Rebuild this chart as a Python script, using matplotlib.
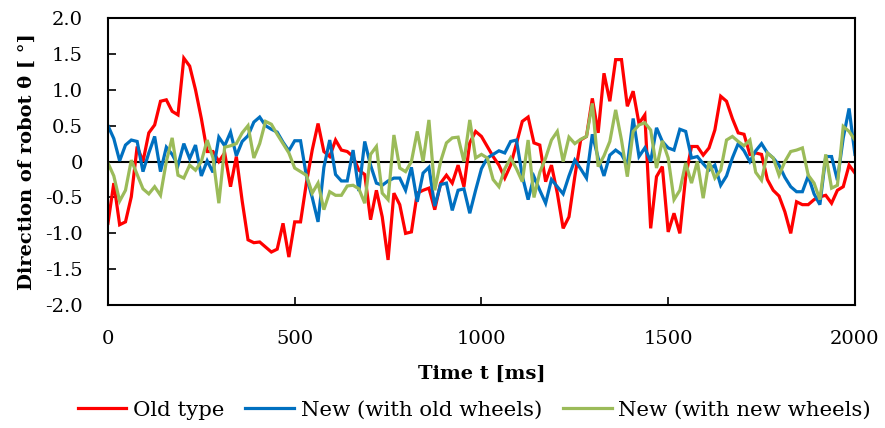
import numpy as np
import matplotlib
matplotlib.use("Agg")
import matplotlib.pyplot as plt

# sampling: 1/64 s steps over 2 s
time_ms = np.arange(129) * 15.625

old_type = [
    -0.86, -0.30, -0.88, -0.84, -0.49, 0.21, 0.00, 0.40, 0.51, 0.84,
    0.86, 0.70, 0.65, 1.44, 1.33, 1.00, 0.60, 0.14, 0.14, 0.00,
    0.12, -0.35, 0.07, -0.55, -1.09, -1.13, -1.12, -1.19, -1.26, -1.22,
    -0.86, -1.33, -0.84, -0.84, -0.30, 0.16, 0.53, 0.14, 0.07, 0.30,
    0.16, 0.14, 0.07, -0.12, -0.18, -0.81, -0.40, -0.77, -1.37, -0.44,
    -0.60, -1.00, -0.98, -0.44, -0.40, -0.37, -0.67, -0.30, -0.19, -0.30,
    -0.05, -0.35, 0.26, 0.42, 0.35, 0.21, 0.07, -0.05, -0.23, -0.05,
    0.25, 0.56, 0.62, 0.26, 0.23, -0.28, -0.05, -0.44, -0.93, -0.77,
    -0.21, 0.30, 0.35, 0.88, 0.40, 1.23, 0.84, 1.42, 1.42, 0.77,
    0.98, 0.53, 0.65, -0.93, -0.21, -0.07, -0.98, -0.72, -1.00, -0.21,
    0.21, 0.21, 0.09, 0.19, 0.44, 0.91, 0.84, 0.60, 0.40, 0.38,
    0.10, 0.12, 0.10, -0.25, -0.40, -0.48, -0.70, -1.00, -0.56, -0.60,
    -0.60, -0.53, -0.49, -0.47, -0.58, -0.40, -0.35, -0.05, -0.16,
]

new_old_wheels = [
    0.50, 0.32, 0.01, 0.23, 0.30, 0.28, -0.14, 0.12, 0.35, -0.14,
    0.20, 0.10, -0.05, 0.25, 0.04, 0.23, -0.20, 0.01, -0.15, 0.34,
    0.22, 0.41, 0.08, 0.28, 0.36, 0.55, 0.62, 0.50, 0.45, 0.41,
    0.27, 0.15, 0.29, 0.29, -0.20, -0.50, -0.84, -0.08, 0.30, -0.18,
    -0.27, -0.27, 0.16, -0.41, 0.28, -0.05, -0.30, -0.33, -0.27, -0.23,
    -0.23, -0.40, -0.08, -0.56, -0.16, -0.08, -0.62, -0.32, -0.30, -0.68,
    -0.40, -0.38, -0.72, -0.40, -0.10, 0.05, 0.10, 0.15, 0.12, 0.28,
    0.30, -0.20, -0.53, -0.21, -0.40, -0.58, -0.25, -0.35, -0.45, -0.20,
    0.02, -0.10, -0.23, 0.38, 0.05, -0.20, 0.09, 0.16, 0.10, -0.05,
    0.60, 0.07, 0.19, 0.00, 0.47, 0.28, 0.19, 0.16, 0.45, 0.42,
    0.05, 0.07, -0.03, -0.12, -0.05, -0.33, -0.20, 0.05, 0.25, 0.15,
    0.00, 0.15, 0.25, 0.12, 0.05, -0.05, -0.22, -0.35, -0.42, -0.42,
    -0.20, -0.45, -0.60, 0.07, 0.07, -0.26, 0.33, 0.74, 0.10,
]

new_new_wheels = [
    -0.02, -0.20, -0.55, -0.40, 0.02, -0.18, -0.38, -0.45, -0.35, -0.47,
    0.00, 0.33, -0.19, -0.23, -0.05, -0.12, 0.00, 0.30, 0.05, -0.58,
    0.20, 0.22, 0.25, 0.40, 0.50, 0.05, 0.25, 0.56, 0.52, 0.38,
    0.25, 0.12, -0.09, -0.14, -0.19, -0.44, -0.30, -0.67, -0.42, -0.47,
    -0.47, -0.34, -0.33, -0.38, -0.58, 0.10, 0.21, -0.44, -0.53, 0.37,
    -0.09, -0.14, 0.00, 0.42, 0.00, 0.58, -0.40, 0.00, 0.26, 0.33,
    0.34, 0.00, 0.58, 0.05, 0.10, 0.05, -0.25, -0.35, -0.10, 0.05,
    -0.10, -0.28, 0.30, -0.50, -0.15, 0.05, 0.30, 0.42, 0.00, 0.34,
    0.25, 0.31, 0.35, 0.81, -0.07, 0.08, 0.28, 0.72, 0.30, -0.21,
    0.42, 0.51, 0.54, 0.44, -0.09, 0.29, 0.05, -0.53, -0.40, -0.02,
    -0.30, 0.00, -0.51, 0.00, -0.23, -0.12, 0.30, 0.35, 0.28, 0.22,
    0.30, -0.15, -0.26, 0.12, 0.05, -0.19, 0.00, 0.14, 0.16, 0.19,
    -0.19, -0.30, -0.53, 0.10, -0.37, -0.33, 0.49, 0.42, 0.30,
]

series_names = ["Old type", "New (with old wheels)", "New (with new wheels)"]
series_colors = ["#FF0000", "#0070C0", "#9BBB59"]

x_ticks = [0, 500, 1000, 1500, 2000]
y_ticks = [-2.0, -1.5, -1.0, -0.5, 0.0, 0.5, 1.0, 1.5, 2.0]
y_tick_labels = ["-2.0", "-1.5", "-1.0", "-0.5", "0", "0.5", "1.0", "1.5", "2.0"]

plt.rcParams["font.family"] = ["DejaVu Serif"]

fig = plt.figure(figsize=(8.85, 4.28), dpi=100)
ax = fig.add_axes([0.122, 0.287, 0.844, 0.671])

for vals, name, col in zip([old_type, new_old_wheels, new_new_wheels], series_names, series_colors):
    ax.plot(time_ms, vals, color=col, linewidth=2.3, label=name, solid_joinstyle="miter")

# horizontal axis line at zero
ax.axhline(0, color="black", linewidth=1.5, zorder=1)

ax.set_xlim(0, 2000)
ax.set_ylim(-2.0, 2.0)
ax.set_xticks(x_ticks)
ax.set_yticks(y_ticks)
ax.set_yticklabels(y_tick_labels)
ax.tick_params(axis="both", direction="in", labelsize=14, width=1.2, length=6, colors="black")
ax.tick_params(axis="x", pad=18)
ax.tick_params(axis="y", pad=18)
for sp in ax.spines.values():
    sp.set_linewidth(1.5)
    sp.set_color("black")

ax.set_xlabel("Time t [ms]", fontsize=14, fontweight="bold", labelpad=12)
ax.set_ylabel("Direction of robot θ [ °]", fontsize=14, fontweight="bold", labelpad=7)

fig.legend(loc="lower center", bbox_to_anchor=(0.536, -0.025), ncol=3, frameon=False,
           fontsize=15.3, handlelength=2.3, handletextpad=0.3, columnspacing=1.0)

fig.savefig("out.png", dpi=100)
